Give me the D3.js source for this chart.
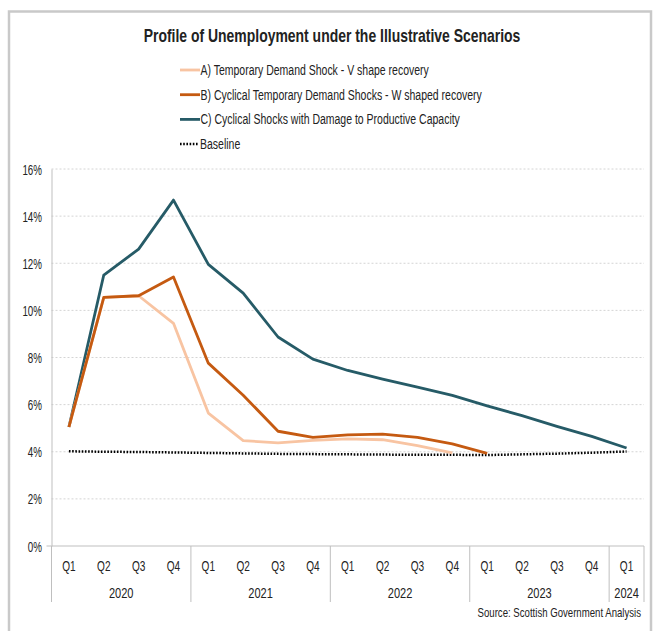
<!DOCTYPE html>
<html><head><meta charset="utf-8">
<script src="https://cdn.jsdelivr.net/npm/d3@7"></script>
<style>
html,body{margin:0;padding:0;background:#fff;}
svg text{font-family:"Liberation Sans",Arial,sans-serif;fill:#222;}
</style></head>
<body><svg id="c" width="653" height="631"></svg>
<script>
const quarters = ["Q1","Q2","Q3","Q4","Q1","Q2","Q3","Q4","Q1","Q2","Q3","Q4","Q1","Q2","Q3","Q4","Q1"];
const years = [{label:"2020",start:0,n:4},{label:"2021",start:4,n:4},{label:"2022",start:8,n:4},{label:"2023",start:12,n:4},{label:"2024",start:16,n:1}];
const seriesA = [5.05,10.55,10.62,9.45,5.64,4.47,4.38,4.48,4.55,4.51,4.26,3.95];
const seriesB = [5.05,10.55,10.62,11.42,7.76,6.4,4.87,4.61,4.72,4.75,4.61,4.33,3.93];
const seriesC = [5.05,11.5,12.6,14.68,11.95,10.73,8.87,7.93,7.45,7.08,6.74,6.39,5.95,5.53,5.08,4.65,4.16];
const baseline = [4.02,4.0,3.99,3.97,3.95,3.93,3.91,3.9,3.89,3.88,3.87,3.87,3.86,3.89,3.92,3.96,4.01];
const yTicks = [0,2,4,6,8,10,12,14,16];
const legendLabels = ["A) Temporary Demand Shock - V shape recovery","B) Cyclical Temporary Demand Shocks - W shaped recovery","C) Cyclical Shocks with Damage to Productive Capacity","Baseline"];
const title = "Profile of Unemployment under the Illustrative Scenarios";
const source = "Source: Scottish Government Analysis";

const colA="#F8C4A2", colB="#C55A11", colC="#265B67";
const svg = d3.select("#c");
// condensed text helper: places text at (px,py) and squeezes horizontally by f
function ctext(parent, px, py, str, size, f, anchor){
  return parent.append("text").attr("transform",`translate(${px},${py}) scale(${f},1)`)
    .attr("text-anchor",anchor||"start").attr("font-size",size).text(str);
}
// outer frame
svg.append("path").attr("d","M9,631 V11.5 H651 V631").attr("fill","none").attr("stroke","#c9c9c9").attr("stroke-width",2.5);

const L=51.5, R=644, T=169, B=546;
const idx = d3.range(quarters.length);
const x = d3.scaleBand().domain(idx).range([L,R]);
const y = d3.scaleLinear().domain([0,16]).range([B,T]);
const cx = i => x(i)+x.bandwidth()/2;

// gridlines
svg.append("g").selectAll("line").data(yTicks.filter(d=>d>0)).join("line")
  .attr("x1",L).attr("x2",R).attr("y1",d=>y(d)).attr("y2",d=>y(d))
  .attr("stroke","#d4d4d4").attr("stroke-width",1).attr("stroke-dasharray","2,2");

// y axis (line from d3 axis, labels condensed)
const yAxis = svg.append("g").attr("transform",`translate(${L},0)`)
  .call(d3.axisLeft(y).tickValues(yTicks).tickFormat(d=>d+"%").tickSize(0).tickPadding(10));
yAxis.select(".domain").attr("stroke","#bfbfbf");
yAxis.selectAll(".tick text").each(function(d){
  const t = d3.select(this);
  t.attr("x",null).attr("dy",null).attr("font-size",14).attr("fill","#222")
   .style("font-family",'"Liberation Sans",Arial,sans-serif')
   .attr("text-anchor","end").attr("transform","translate(-9.5,5) scale(0.7,1)");
});
svg.append("line").attr("x1",L-5).attr("x2",L).attr("y1",B).attr("y2",B).attr("stroke","#bfbfbf");

// x axis line
svg.append("line").attr("x1",L).attr("x2",R).attr("y1",B).attr("y2",B).attr("stroke","#bfbfbf");
const gq = svg.append("g");
idx.forEach(i=>ctext(gq, cx(i), 570.5, quarters[i], 14, 0.72, "middle"));
// year separators
const seps = years.map(d=>d.start).concat([quarters.length]);
svg.append("g").selectAll("line").data(seps).join("line")
  .attr("x1",i=>x(i)===undefined?R:x(i)).attr("x2",i=>x(i)===undefined?R:x(i))
  .attr("y1",B).attr("y2",602).attr("stroke","#bfbfbf");
const gy = svg.append("g");
years.forEach(d=>ctext(gy, x(d.start)+x.bandwidth()*d.n/2, 597.5, d.label, 14, 0.79, "middle"));

// lines
const line = d3.line().x((d,i)=>cx(i)).y(d=>y(d));
svg.append("path").datum(baseline).attr("d",line).attr("fill","none").attr("stroke","#000").attr("stroke-width",2.5).attr("stroke-dasharray","1.6,1.6");
svg.append("path").datum(seriesC).attr("d",line).attr("fill","none").attr("stroke",colC).attr("stroke-width",2.8).attr("stroke-linejoin","round");
svg.append("path").datum(seriesA).attr("d",line).attr("fill","none").attr("stroke",colA).attr("stroke-width",2.8).attr("stroke-linejoin","round");
svg.append("path").datum(seriesB).attr("d",line).attr("fill","none").attr("stroke",colB).attr("stroke-width",2.8).attr("stroke-linejoin","round");

// title
const tt = ctext(svg, 332, 42, title, 17.5, 1, "middle").attr("font-weight","bold").attr("fill","#111");
const tw = tt.node().getComputedTextLength();
tt.attr("transform",`translate(332,42) scale(${377/tw},1)`);

// legend
const legCols=[colA,colB,colC,"#000"];
const lg = svg.append("g");
legendLabels.forEach((t,i)=>{
  const yy = 70 + i*24.7;
  const ln = lg.append("line").attr("x1",180).attr("x2",200).attr("y1",yy).attr("y2",yy).attr("stroke",legCols[i]).attr("stroke-width",2.8);
  if(i===3){ln.attr("x2",198).attr("stroke-dasharray","1.6,1.6").attr("stroke-width",2.5);}
  ctext(lg, i===3?200:200.5, yy+5, t, 14, 0.75);
});

ctext(svg, 641, 616.5, source, 13, 0.74, "end");
</script></body></html>
